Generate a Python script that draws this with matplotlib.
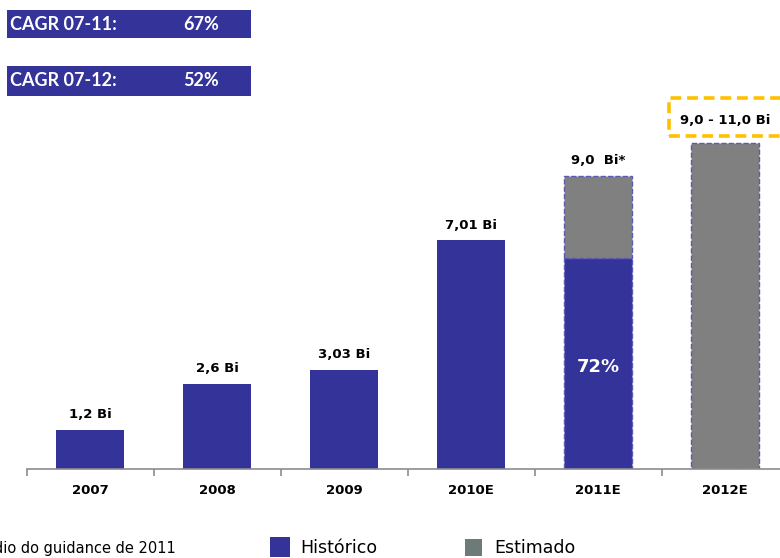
import matplotlib
matplotlib.use("Agg")
import matplotlib.pyplot as plt
from matplotlib.patches import Rectangle

# ---- data ----
years = ['2007', '2008', '2009', '2010E', '2011E', '2012E']
historico = [1.2, 2.6, 3.03, 7.01, 6.48, 0.0]
estimado = [0.0, 0.0, 0.0, 0.0, 2.52, 10.0]
value_labels = ['1,2 Bi', '2,6 Bi', '3,03 Bi', '7,01 Bi', '9,0  Bi*', '9,0 - 11,0 Bi']
share_label = '72%'
cagr_labels = ['CAGR 07-11:', 'CAGR 07-12:']
cagr_values = ['67%', '52%']
legend_labels = ['Histórico', 'Estimado']
footnote = '* Ponto médio do guidance de 2011'

BLUE = '#333399'
GRAY = '#808080'
LEG_GRAY = '#6d7b78'
EDGE = '#5a5ab4'
YELLOW = '#FFC000'

W, H = 780, 558
fig = plt.figure(figsize=(W / 100, H / 100), dpi=100)

# axes: category i center at px 90+127i, baseline px 469 (from top), 32.6 px/unit
x0 = 26.5
axw = 127 * 6
base = H - 469
ymax = 12.0
axh = 32.6 * ymax
ax = fig.add_axes([x0 / W, base / H, axw / W, axh / H])
ax.set_xlim(-0.5, 5.5)
ax.set_ylim(0, ymax)

xs = list(range(len(years)))
bw = 68 / 127
for i in xs:
    hv = historico[i]
    ev = estimado[i]
    dashed = ev > 0
    if hv > 0:
        ax.bar(i, hv, width=bw, color=BLUE,
               edgecolor=EDGE if dashed else BLUE,
               linestyle='--' if dashed else '-', linewidth=1.0 if dashed else 0)
    if ev > 0:
        ax.bar(i, ev, bottom=hv, width=bw, color=GRAY, edgecolor=EDGE,
               linestyle='--', linewidth=1.0)

# value labels
for i in xs[:5]:
    top = historico[i] + estimado[i]
    ax.annotate(value_labels[i], (i, top), xytext=(0, 11), textcoords='offset points',
                ha='center', va='center', fontsize=9.5, fontweight='bold',
                family='DejaVu Sans', color='black')

# 2012E label with yellow dashed box
i = 5
top = historico[i] + estimado[i]
ax.annotate(value_labels[i], (i, top), xytext=(0, 16), textcoords='offset points',
            ha='center', va='center', fontsize=9.5, fontweight='bold',
            family='DejaVu Sans', color='black', annotation_clip=False)
fig.patches.append(Rectangle((669 / W, (H - 136) / H), 130 / W, 38 / H,
                             transform=fig.transFigure, fill=False,
                             edgecolor=YELLOW, linestyle=(0, (3, 1.6)), linewidth=2.6))

# 72% share label
ax.text(4, 3.13, share_label, ha='center', va='center', fontsize=13,
        fontweight='bold', color='white', family='DejaVu Sans')

# axis styling
for s in ['top', 'right', 'left']:
    ax.spines[s].set_visible(False)
ax.spines['bottom'].set_color('#8c8c8c')
ax.spines['bottom'].set_linewidth(1.2)
ax.set_yticks([])
ax.set_xticks(xs)
ax.set_xticklabels(years, fontsize=9.5, fontweight='bold', family='DejaVu Sans')
ax.tick_params(axis='x', which='major', length=0, pad=11)
ax.set_xticks([x - 0.5 for x in range(7)], minor=True)
ax.tick_params(axis='x', which='minor', length=5, color='#8c8c8c', width=1.2)

# CAGR boxes
for k, (lab, val) in enumerate(zip(cagr_labels, cagr_values)):
    ytop = [10, 66][k]
    hgt = [28, 30][k]
    fig.patches.append(Rectangle((7 / W, (H - ytop - hgt) / H), 244 / W, hgt / H,
                                 transform=fig.transFigure, facecolor=BLUE, edgecolor='none'))
    yc = (H - ytop - hgt / 2) / H
    fig.text(10 / W, yc, lab, ha='left', va='center', color='white', fontsize=13,
             fontweight='bold', family='Lato')
    fig.text(183 / W, yc, val, ha='left', va='center', color='white', fontsize=13,
             fontweight='bold', family='Lato')

# legend
ly = (H - 548) / H
fig.patches.append(Rectangle((270 / W, (H - 557) / H), 20 / W, 20 / H,
                             transform=fig.transFigure, facecolor=BLUE, edgecolor='none'))
fig.text(300 / W, ly, legend_labels[0], ha='left', va='center', fontsize=12.5,
         family='DejaVu Sans', color='black')
fig.patches.append(Rectangle((465 / W, (H - 556) / H), 17 / W, 17 / H,
                             transform=fig.transFigure, facecolor=LEG_GRAY, edgecolor='none'))
fig.text(494 / W, ly, legend_labels[1], ha='left', va='center', fontsize=12.5,
         family='DejaVu Sans', color='black')
fig.text(176 / W, ly, footnote, ha='right', va='center', fontsize=10.5,
         family='DejaVu Sans', color='black')

fig.savefig('out.png', dpi=100)
